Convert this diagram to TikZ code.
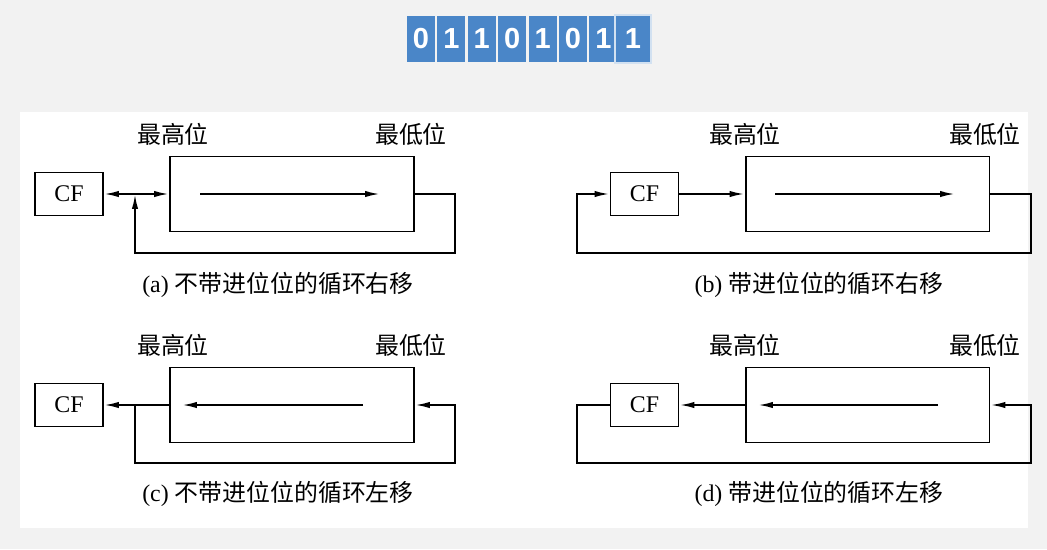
\documentclass[tikz,border=0pt]{standalone}
\usepackage{fontspec}
\setmainfont{Liberation Serif}
\newfontfamily\cjk{Noto Sans CJK SC}
\newfontfamily\bitfont{Liberation Sans}
\usetikzlibrary{arrows.meta}
\definecolor{bitblue}{HTML}{4A86C8}
\definecolor{screen}{HTML}{F2F2F2}

\tikzset{
  flag/.style={draw, line width=1.1pt, minimum width=1.36cm, minimum height=0.86cm, inner sep=0pt, font=\fontsize{13.6}{16}\selectfont},
  reg/.style={draw, line width=1.1pt, minimum width=4.88cm, minimum height=1.5cm, inner sep=0pt},
  tag/.style={font=\fontsize{13.6}{16}\selectfont\cjk, inner sep=0pt},
  subcap/.style={font=\fontsize{13.6}{16}\selectfont, inner sep=0pt},
  tip/.tip={Latex[length=8.5pt,width=3.6pt]},
  wire/.style={line width=1.1pt},
  flow/.style={line width=1.1pt, -tip},
  bit/.style={fill=bitblue, text=white, minimum width=0.56cm, minimum height=0.92cm, inner sep=0pt, font=\fontsize{16.5}{18}\selectfont\bitfont\bfseries},
}

\begin{document}
\begin{tikzpicture}[x=0.02cm, y=-0.02cm]
    %%%%% BACKGROUND %%%%%
    \fill[screen] (0,0) rectangle (1047,549);
    \useasboundingbox (0,0) rectangle (1047,549);
    \fill[white] (20,112) rectangle (1028,528);

    %%%%% BITS %%%%%
    \foreach \b [count=\i from 0] in {0,1,1,0,1,0,1}
        \node[bit] (bit\i) at ({421+30.4*\i},39) {\b};
    \node[bit, minimum width=0.72cm, minimum height=0.96cm, draw=white!75!bitblue, line width=0.6pt] (bit7) at (633,39) {1};

    %%%%% (a) %%%%%
    \node[flag] (cfA) at (69,194) {CF};
    \node[reg] (regA) at (292,194) {};
    \node[tag] (hiA) at (173,134) {最高位};
    \node[tag] (loA) at (411,134) {最低位};
    \node[subcap] (capA) at (278,285) {(a) {\cjk 不带进位位的循环右移}};
    \coordinate (inA1) at (200,194);
    \coordinate (inA2) at (380,194);
    \coordinate (rA) at (455,194);
    \coordinate (jA) at (135,194);
    \draw[flow] (inA1) -- (inA2);
    \draw[wire, tip-tip] (cfA.east) -- (regA.west);
    \draw[flow] (regA.east) -- (rA) -- ++(0,59) -| (jA);

    %%%%% (b) %%%%%
    \node[flag] (cfB) at (644.5,194) {CF};
    \node[reg] (regB) at (867.5,194) {};
    \node[tag] (hiB) at (745,134) {最高位};
    \node[tag] (loB) at (985,134) {最低位};
    \node[subcap] (capB) at (819,285) {(b) {\cjk 带进位位的循环右移}};
    \coordinate (inB1) at (775,194);
    \coordinate (inB2) at (955,194);
    \coordinate (rB) at (1031,194);
    \coordinate (lB) at (577,194);
    \draw[flow] (inB1) -- (inB2);
    \draw[flow] (cfB.east) -- (regB.west);
    \draw[flow] (regB.east) -- (rB) -- ++(0,59) -| (lB) -- (cfB.west);

    %%%%% (c) %%%%%
    \node[flag] (cfC) at (69,405) {CF};
    \node[reg] (regC) at (292,405) {};
    \node[tag] (hiC) at (173,345) {最高位};
    \node[tag] (loC) at (411,345) {最低位};
    \node[subcap] (capC) at (278,494) {(c) {\cjk 不带进位位的循环左移}};
    \coordinate (inC1) at (363,405);
    \coordinate (inC2) at (182,405);
    \coordinate (rC) at (455,405);
    \coordinate (jC) at (135,405);
    \draw[flow] (inC1) -- (inC2);
    \draw[flow] (regC.west) -- (cfC.east);
    \draw[flow] (jC) -- ++(0,58) -| (rC) -- (regC.east);

    %%%%% (d) %%%%%
    \node[flag] (cfD) at (644.5,405) {CF};
    \node[reg] (regD) at (867.5,405) {};
    \node[tag] (hiD) at (745,345) {最高位};
    \node[tag] (loD) at (985,345) {最低位};
    \node[subcap] (capD) at (819,494) {(d) {\cjk 带进位位的循环左移}};
    \coordinate (inD1) at (938,405);
    \coordinate (inD2) at (758,405);
    \coordinate (rD) at (1031,405);
    \coordinate (lD) at (577,405);
    \draw[flow] (inD1) -- (inD2);
    \draw[flow] (regD.west) -- (cfD.east);
    \draw[flow] (cfD.west) -- (lD) -- ++(0,58) -| (rD) -- (regD.east);
\end{tikzpicture}
\end{document}
